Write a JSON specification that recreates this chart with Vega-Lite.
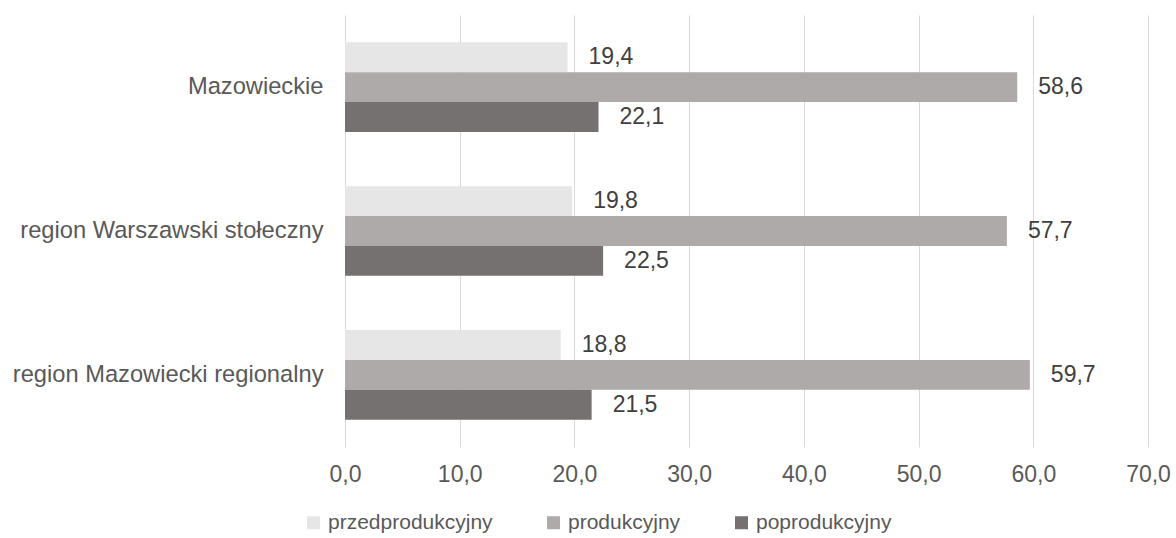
{
  "$schema": "https://vega.github.io/schema/vega-lite/v6.json",
  "width": 803,
  "height": 432,
  "padding": {"left": 12, "top": 15, "right": 20, "bottom": 5},
  "background": "#ffffff",
  "data": {
    "values": [
      {"region": "Mazowieckie", "grupa": "przedprodukcyjny", "value": 19.4},
      {"region": "Mazowieckie", "grupa": "produkcyjny", "value": 58.6},
      {"region": "Mazowieckie", "grupa": "poprodukcyjny", "value": 22.1},
      {"region": "region Warszawski stołeczny", "grupa": "przedprodukcyjny", "value": 19.8},
      {"region": "region Warszawski stołeczny", "grupa": "produkcyjny", "value": 57.7},
      {"region": "region Warszawski stołeczny", "grupa": "poprodukcyjny", "value": 22.5},
      {"region": "region Mazowiecki regionalny", "grupa": "przedprodukcyjny", "value": 18.8},
      {"region": "region Mazowiecki regionalny", "grupa": "produkcyjny", "value": 59.7},
      {"region": "region Mazowiecki regionalny", "grupa": "poprodukcyjny", "value": 21.5}
    ]
  },
  "transform": [
    {"calculate": "replace(format(datum.value, '.1f'), '.', ',')", "as": "label"}
  ],
  "encoding": {
    "y": {
      "field": "region", "type": "nominal",
      "sort": ["Mazowieckie", "region Warszawski stołeczny", "region Mazowiecki regionalny"],
      "scale": {"paddingInner": 0.377, "paddingOuter": 0.19},
      "axis": {"title": null, "domain": false, "ticks": false, "labelPadding": 22, "labelFontSize": 23.7, "labelColor": "#595959", "labelFont": "Liberation Sans", "labelLimit": 400}
    },
    "yOffset": {
      "field": "grupa", "type": "nominal",
      "sort": ["przedprodukcyjny", "produkcyjny", "poprodukcyjny"],
      "scale": {"paddingInner": 0, "paddingOuter": 0}
    },
    "x": {
      "field": "value", "type": "quantitative",
      "scale": {"domain": [0, 70], "nice": false},
      "axis": {"title": null, "values": [0, 10, 20, 30, 40, 50, 60, 70], "domain": false, "ticks": false, "labelPadding": 16, "labelFontSize": 23, "labelColor": "#595959", "labelFont": "Liberation Sans", "gridColor": "#d9d9d9", "gridWidth": 1, "labelExpr": "replace(format(datum.value, '.1f'), '.', ',')", "labelFlush": false}
    }
  },
  "layer": [
    {
      "mark": {"type": "bar"},
      "encoding": {
        "color": {
          "field": "grupa", "type": "nominal",
          "sort": ["przedprodukcyjny", "produkcyjny", "poprodukcyjny"],
          "scale": {"domain": ["przedprodukcyjny", "produkcyjny", "poprodukcyjny"], "range": ["#e7e6e6", "#aeaaaa", "#767171"]},
          "legend": {"title": null, "orient": "none", "legendX": -42, "legendY": 497, "direction": "horizontal", "symbolType": "square", "symbolSize": 169, "symbolStrokeWidth": 0, "labelFontSize": 21, "labelColor": "#595959", "labelFont": "Liberation Sans", "labelLimit": 400, "columnPadding": 50, "labelOffset": 4, "padding": 0}
        }
      }
    },
    {
      "mark": {"type": "text", "align": "left", "baseline": "middle", "dx": 21, "fontSize": 23, "font": "Liberation Sans", "color": "#404040"},
      "encoding": {"text": {"field": "label"}}
    }
  ],
  "config": {"view": {"stroke": null}}
}
